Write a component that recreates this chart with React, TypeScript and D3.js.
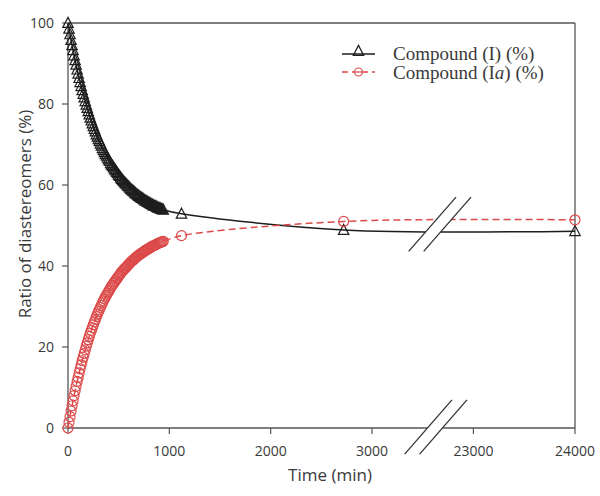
import React from "react";
import * as d3 from "d3";

// ---- data ----
const denseTimes: number[] = [
  0, 10, 20, 30, 40, 50, 60, 70, 80, 90, 100, 110, 120, 130, 140, 150, 160, 170,
  180, 190, 200, 210, 220, 230, 240, 250, 260, 270, 280, 290, 300, 310, 320,
  330, 340, 350, 360, 370, 380, 390, 400, 410, 420, 430, 440, 450, 460, 470,
  480, 490, 500, 510, 520, 530, 540, 550, 560, 570, 580, 590, 600, 610, 620,
  630, 640, 650, 660, 670, 680, 690, 700, 710, 720, 730, 740, 750, 760, 770,
  780, 790, 800, 810, 820, 830, 840, 850, 860, 870, 880, 890, 900, 910, 920,
  930, 940,
];
const laterTimes: number[] = [1120, 2720, 24000];

const compoundI: number[] = [
  100, 98.6, 97.2, 95.8, 94.5, 93.3, 92.0, 90.8, 89.7, 88.5, 87.5, 86.4, 85.4,
  84.4, 83.4, 82.5, 81.6, 80.7, 79.8, 79.0, 78.2, 77.4, 76.6, 75.9, 75.2, 74.5,
  73.8, 73.2, 72.5, 71.9, 71.3, 70.8, 70.2, 69.7, 69.1, 68.6, 68.1, 67.6, 67.2,
  66.7, 66.3, 65.9, 65.4, 65.0, 64.7, 64.3, 63.9, 63.6, 63.2, 62.9, 62.5, 62.2,
  61.8, 61.5, 61.2, 60.9, 60.6, 60.4, 60.1, 59.8, 59.6, 59.3, 59.0, 58.8, 58.6,
  58.4, 58.1, 57.9, 57.7, 57.5, 57.3, 57.1, 56.9, 56.8, 56.6, 56.4, 56.2, 56.1,
  55.9, 55.8, 55.6, 55.5, 55.3, 55.2, 55.0, 54.9, 54.8, 54.7, 54.5, 54.4, 54.3,
  54.2, 54.1, 54.0, 53.9,
  52.9, 48.9, 48.6,
];
const compoundIa: number[] = [
  0, 1.4, 2.8, 4.2, 5.5, 6.7, 8.0, 9.2, 10.3, 11.5, 12.5, 13.6, 14.6, 15.6,
  16.6, 17.5, 18.4, 19.3, 20.2, 21.0, 21.8, 22.6, 23.4, 24.1, 24.8, 25.5, 26.2,
  26.8, 27.5, 28.1, 28.7, 29.2, 29.8, 30.3, 30.9, 31.4, 31.9, 32.4, 32.8, 33.3,
  33.7, 34.1, 34.6, 35.0, 35.3, 35.7, 36.1, 36.4, 36.8, 37.1, 37.5, 37.8, 38.2,
  38.5, 38.8, 39.1, 39.4, 39.6, 39.9, 40.2, 40.4, 40.7, 41.0, 41.2, 41.4, 41.6,
  41.9, 42.1, 42.3, 42.5, 42.7, 42.9, 43.1, 43.2, 43.4, 43.6, 43.8, 43.9, 44.1,
  44.2, 44.4, 44.5, 44.7, 44.8, 45.0, 45.1, 45.2, 45.3, 45.5, 45.6, 45.7, 45.8,
  45.9, 46.0, 46.1,
  47.5, 51.0, 51.4,
];

const xTicks: number[] = [0, 1000, 2000, 3000, 23000, 24000];
const yTicks: number[] = [0, 20, 40, 60, 80, 100];
const xBreak: number[] = [3620, 22620];

const seriesNames: string[] = ["Compound (I) (%)", "Compound (Ia) (%)"];

// ---- layout ----
const W = 600;
const H = 496;
const left = 68;
const right = 575;
const top = 23;
const bottom = 428;

const axisColor = "#555";
const textColor = "#3a3a3a";
const red = "#dc4a4a";
const black = "#1e1e1e";

export default function App() {
  const times = [...denseTimes, ...laterTimes];
  const pxPerMin = (372 - left) / 3000;
  const breakX = left + xBreak[0] * pxPerMin;
  const x = d3
    .scaleLinear()
    .domain([0, xBreak[0], xBreak[1], 24000])
    .range([left, breakX, breakX, right]);
  const y = d3.scaleLinear().domain([0, 100]).range([bottom, top]);

  const ptsI = times.map((t, i) => ({ t, v: compoundI[i] }));
  const ptsIa = times.map((t, i) => ({ t, v: compoundIa[i] }));

  const line = d3
    .line<{ t: number; v: number }>()
    .x((d) => x(d.t))
    .y((d) => y(d.v))
    .curve(d3.curveCatmullRom.alpha(0.5));

  const tri = "M0,-5.6L5.2,4.4L-5.2,4.4Z";

  // break marks
  const dir = [48, -55];
  const len = Math.hypot(dir[0], dir[1]);
  const ux = dir[0] / len;
  const uy = dir[1] / len;
  const half = 36;
  const gap = 7.5;
  const breakMark = (cx: number, cy: number, key: string) => {
    const l1 = [cx - gap - ux * half, cy - uy * half, cx - gap + ux * half, cy + uy * half];
    const l2 = [cx + gap - ux * half, cy - uy * half, cx + gap + ux * half, cy + uy * half];
    const poly = `${l1[0]},${l1[1]} ${l1[2]},${l1[3]} ${l2[2]},${l2[3]} ${l2[0]},${l2[1]}`;
    return (
      <g key={key}>
        <polygon points={poly} fill="#fff" stroke="none" />
        <line x1={l1[0]} y1={l1[1]} x2={l1[2]} y2={l1[3]} stroke="#333" strokeWidth={1.3} />
        <line x1={l2[0]} y1={l2[1]} x2={l2[2]} y2={l2[3]} stroke="#333" strokeWidth={1.3} />
      </g>
    );
  };

  const tickFont = "'Open Sans', 'DejaVu Sans', sans-serif";
  const serif = "'Liberation Serif', 'Times New Roman', serif";

  return (
    <svg
      width={W}
      height={H}
      style={{ position: "absolute", left: 0, top: 0, background: "#fff" }}
    >
      <rect x={0} y={0} width={W} height={H} fill="#fff" />
      {/* frame */}
      <line x1={left} y1={top} x2={right} y2={top} stroke={axisColor} strokeWidth={1.3} />
      <line x1={right} y1={top} x2={right} y2={bottom} stroke={axisColor} strokeWidth={1.3} />
      <line x1={left} y1={top} x2={left} y2={bottom} stroke={axisColor} strokeWidth={1.3} />
      <line x1={left} y1={bottom} x2={right} y2={bottom} stroke={axisColor} strokeWidth={1.3} />

      {/* y ticks */}
      {yTicks.map((v) => (
        <g key={"y" + v}>
          <line x1={left - 6} x2={left} y1={y(v)} y2={y(v)} stroke={axisColor} strokeWidth={1.2} />
          <text
            x={left - 14}
            y={y(v)}
            dy="0.36em"
            textAnchor="end"
            fontFamily={tickFont}
            fontSize={14}
            fill={textColor}
          >
            {v}
          </text>
        </g>
      ))}
      {/* x ticks */}
      {xTicks.map((v) => (
        <g key={"x" + v}>
          <line x1={x(v)} x2={x(v)} y1={bottom} y2={bottom + 6} stroke={axisColor} strokeWidth={1.2} />
          <text
            x={x(v)}
            y={bottom + 28}
            textAnchor="middle"
            fontFamily={tickFont}
            fontSize={14}
            fill={textColor}
          >
            {v}
          </text>
        </g>
      ))}

      {/* axis titles */}
      <text
        x={330}
        y={481}
        textAnchor="middle"
        fontFamily={tickFont}
        fontSize={17}
        fill={textColor}
      >
        Time (min)
      </text>
      <text
        transform={`translate(31,${214}) rotate(-90)`}
        textAnchor="middle"
        fontFamily={tickFont}
        fontSize={17}
        fill={textColor}
      >
        Ratio of diastereomers (%)
      </text>

      {/* lines */}
      <path d={line(ptsI) || ""} fill="none" stroke={black} strokeWidth={1.5} />
      <path
        d={line(ptsIa) || ""}
        fill="none"
        stroke={red}
        strokeWidth={1.5}
        strokeDasharray="7,4"
      />

      {/* markers */}
      {ptsI.map((d, i) => (
        <path
          key={"ti" + i}
          d={tri}
          transform={`translate(${x(d.t)},${y(d.v)})`}
          fill="none"
          stroke={black}
          strokeWidth={1.2}
        />
      ))}
      {ptsIa.map((d, i) => (
        <circle
          key={"ci" + i}
          cx={x(d.t)}
          cy={y(d.v)}
          r={5}
          fill="none"
          stroke={red}
          strokeWidth={1.2}
        />
      ))}

      {/* axis breaks */}
      {breakMark(breakX + 1, bottom - 1, "b1")}
      {breakMark(breakX + 5, y(50.3), "b2")}

      {/* legend */}
      <g>
        <line x1={342} x2={375} y1={54} y2={54} stroke={black} strokeWidth={1.5} />
        <path d={tri} transform="translate(358.5,51)" fill="none" stroke={black} strokeWidth={1.2} />
        <text x={393} y={59.5} fontFamily={serif} fontSize={19} fill={textColor}>
          {seriesNames[0]}
        </text>
        <line
          x1={342}
          x2={375}
          y1={72}
          y2={72}
          stroke={red}
          strokeWidth={1.5}
          strokeDasharray="6,4"
        />
        <circle cx={358.5} cy={72} r={4} fill="#fff" stroke={red} strokeWidth={1.2} />
        <line x1={354.5} x2={362.5} y1={72} y2={72} stroke={red} strokeWidth={1.2} />
        <text x={393} y={78.5} fontFamily={serif} fontSize={19} fill={textColor}>
          Compound (I<tspan fontStyle="italic">a</tspan>) (%)
        </text>
      </g>
    </svg>
  );
}
